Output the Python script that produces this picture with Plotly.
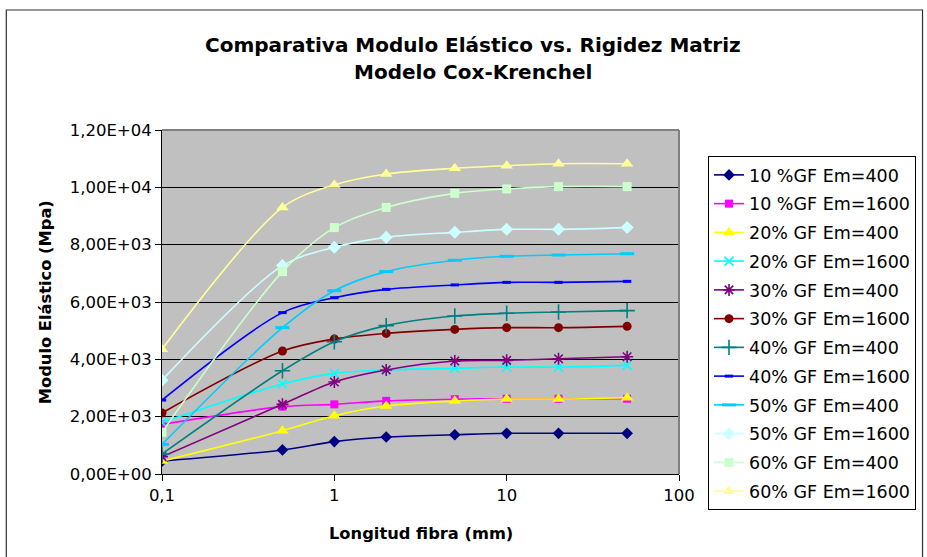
import plotly.graph_objects as go

# fibre length (mm) at which each series was evaluated
longitud = [0.1, 0.5, 1, 2, 5, 10, 20, 50]

series_names = [
    "10 %GF Em=400", "10 %GF Em=1600",
    "20% GF Em=400", "20% GF Em=1600",
    "30% GF Em=400", "30% GF Em=1600",
    "40% GF Em=400", "40% GF Em=1600",
    "50% GF Em=400", "50% GF Em=1600",
    "60% GF Em=400", "60% GF Em=1600",
]

gf10_em400 = [450, 840, 1130, 1290, 1370, 1420, 1420, 1420]
gf10_em1600 = [1730, 2350, 2430, 2550, 2610, 2625, 2625, 2625]
gf20_em400 = [450, 1510, 2035, 2370, 2545, 2615, 2615, 2660]
gf20_em1600 = [1800, 3140, 3510, 3630, 3690, 3730, 3730, 3790]
gf30_em400 = [600, 2430, 3210, 3630, 3940, 3965, 4020, 4090]
gf30_em1600 = [2130, 4290, 4710, 4905, 5045, 5105, 5105, 5150]
gf40_em400 = [700, 3600, 4615, 5175, 5510, 5605, 5650, 5700]
gf40_em1600 = [2580, 5630, 6150, 6440, 6595, 6685, 6685, 6720]
gf50_em400 = [1035, 5105, 6395, 7060, 7455, 7595, 7640, 7685]
gf50_em1600 = [3270, 7270, 7910, 8255, 8430, 8535, 8535, 8595]
gf60_em400 = [1455, 7060, 8595, 9300, 9790, 9945, 10025, 10025]
gf60_em1600 = [4350, 9300, 10085, 10465, 10665, 10755, 10825, 10825]

all_series = [gf10_em400, gf10_em1600, gf20_em400, gf20_em1600,
              gf30_em400, gf30_em1600, gf40_em400, gf40_em1600,
              gf50_em400, gf50_em1600, gf60_em400, gf60_em1600]

y_ticks = [0, 2000, 4000, 6000, 8000, 10000, 12000]
y_ticktext = ["0,00E+00", "2,00E+03", "4,00E+03", "6,00E+03",
              "8,00E+03", "1,00E+04", "1,20E+04"]
x_ticks = [0.1, 1, 10, 100]
x_ticktext = ["0,1", "1", "10", "100"]

# (colour, symbol, size, line-marker?) per series, Excel 2003 palette
styles = [
    ("#000080", "diamond", 9, False),
    ("#FF00FF", "square", 8, False),
    ("#FFFF00", "triangle-up", 11, False),
    ("#00FFFF", "x-thin", 9, True),
    ("#800080", "asterisk", 10, True),
    ("#800000", "circle", 9, False),
    ("#008080", "cross-thin", 11, True),
    ("#0000FF", "line-ew", 6, True),
    ("#00CCFF", "line-ew", 10, True),
    ("#CCFFFF", "diamond", 10, False),
    ("#CCFFCC", "square", 9, False),
    ("#FFFF99", "triangle-up", 11, False),
]

FONT = "DejaVu Sans"

fig = go.Figure()
for i, (name, vals) in enumerate(zip(series_names, all_series)):
    color, symbol, size, is_line = styles[i]
    marker = dict(symbol=symbol, size=size, color=color)
    if is_line:
        marker["line"] = dict(color=color, width=3 if symbol == "line-ew" else 1.6)
    else:
        marker["line"] = dict(width=0)
    fig.add_trace(go.Scatter(
        x=longitud, y=vals, name=name, legendgroup=f"g{i}",
        mode="lines+markers", line=dict(color=color, width=1.6, shape="spline", smoothing=0.9),
        marker=marker,
    ))

# plot area is 162..680 px wide, 130..474 px tall
PW, PH = 518, 344


def px_x(px):
    return (px - 162) / PW


def px_y(py):
    return (474 - py) / PH


fig.update_layout(
    width=927, height=557,
    margin=dict(l=162, r=247, t=130, b=83),
    paper_bgcolor="white", plot_bgcolor="#C0C0C0",
    font=dict(family=FONT, size=15, color="black"),
    showlegend=True,
    legend=dict(
        x=px_x(708), y=px_y(156), xanchor="left", yanchor="top",
        bgcolor="white", bordercolor="black", borderwidth=1,
        font=dict(family=FONT, size=17.5, color="black"),
        tracegroupgap=3, traceorder="grouped", maxheight=557,
    ),
    xaxis=dict(
        type="log", range=[-1, 2], tickvals=x_ticks, ticktext=x_ticktext,
        showgrid=False, zeroline=False, showline=True, linecolor="black", linewidth=1,
        ticks="outside", ticklen=6, tickcolor="black",
        tickfont=dict(family=FONT, size=16.5),
    ),
    yaxis=dict(
        range=[0, 12000], tickvals=y_ticks, ticktext=y_ticktext,
        showgrid=True, gridcolor="black", gridwidth=1, zeroline=False,
        showline=True, linecolor="black", linewidth=1,
        ticks="outside", ticklen=6, tickcolor="black",
        tickfont=dict(family=FONT, size=16.5),
    ),
    annotations=[
        dict(text="<b>Comparativa Modulo Elástico vs. Rigidez Matriz</b>",
             xref="paper", yref="paper", x=px_x(474), y=px_y(45),
             xanchor="center", yanchor="middle", showarrow=False,
             font=dict(family=FONT, size=20)),
        dict(text="<b>Modelo Cox-Krenchel</b>",
             xref="paper", yref="paper", x=px_x(474), y=px_y(72),
             xanchor="center", yanchor="middle", showarrow=False,
             font=dict(family=FONT, size=20)),
        dict(text="<b>Longitud fibra (mm)</b>",
             xref="paper", yref="paper", x=0.5, y=px_y(533),
             xanchor="center", yanchor="middle", showarrow=False,
             font=dict(family=FONT, size=16.3)),
        dict(text="<b>Modulo Elástico (Mpa)</b>", textangle=-90,
             xref="paper", yref="paper", x=px_x(45), y=0.5,
             xanchor="center", yanchor="middle", showarrow=False,
             font=dict(family=FONT, size=16.3)),
    ],
    shapes=[
        # chart border
        dict(type="rect", xref="paper", yref="paper",
             x0=px_x(6), x1=px_x(924), y0=px_y(570), y1=px_y(10),
             line=dict(color="#303030", width=1.2)),
        # grey top / right edges of the plot area
        dict(type="line", xref="paper", yref="paper", x0=0, x1=1, y0=1, y1=1,
             line=dict(color="#808080", width=2)),
        dict(type="line", xref="paper", yref="paper", x0=1, x1=1, y0=0, y1=1,
             line=dict(color="#808080", width=2)),
    ],
)

# page body margin would push the chart off its 927x557 frame
fig.write_html("out.html", config={"displayModeBar": False},
               post_script="document.body.style.margin='0';")
